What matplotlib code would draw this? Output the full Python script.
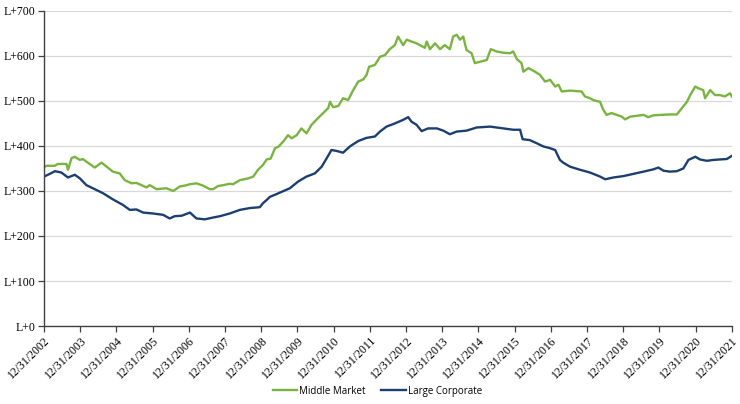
#!/usr/bin/env python3
# -*- coding: utf-8 -*-

"""Middle market vs large corporate spreads, L+ bps."""

import matplotlib
matplotlib.use("Agg")
import matplotlib.pyplot as plt
import numpy as np

# years elapsed since 12/31/2002
mm_t = [0.00, 0.07, 0.30, 0.38, 0.62, 0.66, 0.76, 0.85, 0.99, 1.07, 1.40, 1.59,
        1.90, 2.09, 2.23, 2.42, 2.55, 2.83, 2.92, 3.11, 3.38, 3.57, 3.75, 3.89,
        4.03, 4.21, 4.39, 4.58, 4.67, 4.81, 4.95, 5.13, 5.22, 5.41, 5.64, 5.78,
        5.91, 6.05, 6.15, 6.26, 6.38, 6.47, 6.61, 6.74, 6.84, 6.98, 7.11, 7.25,
        7.39, 7.57, 7.71, 7.85, 7.90, 7.99, 8.13, 8.26, 8.40, 8.54, 8.68, 8.82,
        8.91, 8.98, 9.14, 9.28, 9.42, 9.55, 9.69, 9.78, 9.92, 10.02, 10.15,
        10.29, 10.38, 10.52, 10.57, 10.66, 10.80, 10.94, 11.07, 11.21, 11.30,
        11.40, 11.49, 11.58, 11.67, 11.81, 11.90, 12.04, 12.23, 12.34, 12.50,
        12.69, 12.87, 12.96, 13.06, 13.19, 13.24, 13.38, 13.56, 13.70, 13.84,
        13.98, 14.12, 14.21, 14.30, 14.53, 14.85, 14.94, 15.08, 15.17, 15.36,
        15.45, 15.54, 15.68, 15.82, 15.96, 16.05, 16.19, 16.37, 16.56, 16.69,
        16.83, 17.02, 17.29, 17.48, 17.62, 17.76, 17.85, 17.99, 18.08, 18.21,
        18.26, 18.40, 18.54, 18.67, 18.81, 18.95, 19.00]
mm_val = [353, 356, 356, 360, 360, 347, 373, 376, 369, 371, 352, 363,
          343, 339, 324, 317, 318, 308, 313, 304, 306, 300, 310, 312,
          315, 317, 312, 304, 304, 311, 313, 316, 315, 324, 328, 332,
          347, 358, 370, 372, 395, 398, 410, 424, 417, 424, 439, 428,
          447, 462, 473, 484, 498, 486, 489, 506, 502, 524, 543, 548,
          558, 576, 580, 598, 602, 615, 624, 643, 624, 636, 632,
          628, 624, 618, 632, 615, 628, 615, 624, 615, 643,
          647, 636, 643, 613, 606, 584, 587, 591, 615, 610,
          607, 606, 610, 593, 584, 565, 573, 565, 558, 543,
          547, 532, 536, 521, 523, 521, 510, 506, 502, 498,
          480, 469, 473, 469, 465, 459, 465, 467, 469, 464,
          468, 469, 470, 470, 484, 498, 513, 532, 528, 524,
          506, 524, 513, 513, 510, 517, 510]

lc_t = [0.00, 0.16, 0.30, 0.48, 0.66, 0.85, 0.99, 1.17, 1.35, 1.63, 1.91,
        2.18, 2.37, 2.55, 2.74, 3.01, 3.29, 3.47, 3.61, 3.80, 4.03, 4.21,
        4.44, 4.67, 4.86, 5.13, 5.41, 5.68, 5.96, 6.05, 6.15, 6.24, 6.42,
        6.56, 6.79, 7.02, 7.25, 7.48, 7.67, 7.81, 7.94, 8.08, 8.26, 8.45,
        8.68, 8.91, 9.14, 9.28, 9.46, 9.69, 9.92, 10.06, 10.15, 10.29,
        10.43, 10.61, 10.85, 11.03, 11.21, 11.40, 11.67, 11.95, 12.32,
        12.69, 12.96, 13.15, 13.22, 13.42, 13.61, 13.79, 13.98, 14.12,
        14.25, 14.34, 14.53, 14.81, 15.08, 15.36, 15.50, 15.73, 16.00,
        16.28, 16.56, 16.83, 16.97, 17.11, 17.29, 17.48, 17.66, 17.80,
        17.99, 18.12, 18.31, 18.49, 18.67, 18.86, 19.00]
lc_val = [332, 338, 344, 341, 330, 336, 328, 313, 306, 295, 281,
          269, 258, 259, 252, 250, 247, 239, 244, 245, 252, 239,
          237, 241, 244, 250, 258, 262, 264, 273, 280, 287, 293,
          298, 306, 321, 332, 339, 354, 373, 391, 389, 385, 399,
          411, 418, 421, 432, 443, 450, 458, 464, 454, 447,
          433, 439, 439, 434, 426, 432, 434, 441, 443,
          439, 436, 436, 415, 413, 406, 399, 395, 391,
          369, 363, 354, 347, 341, 332, 326, 330, 333,
          338, 343, 348, 352, 345, 343, 344, 350, 369,
          376, 370, 367, 369, 370, 371, 378]

years = list(range(2002, 2022))
y_ticks = list(range(0, 701, 100))

GREEN = "#79b440"
BLUE = "#1c3f70"

plt.rcParams["font.serif"] = ["Liberation Serif", "DejaVu Serif"]


def main():
    fig = plt.figure(figsize=(7.4, 4.04), dpi=100)
    ax = fig.add_axes([0.0595, 0.193, 0.9295, 0.780])

    ax.plot(mm_t, mm_val, color=GREEN, lw=1.7, label="Middle Market")
    ax.plot(lc_t, lc_val, color=BLUE, lw=1.7, label="Large Corporate")

    ax.set_xlim(0, len(years) - 1)
    ax.set_ylim(0, 700)
    ax.set_yticks(y_ticks)
    ax.set_yticklabels(["L+%d" % v for v in y_ticks],
                       fontfamily="serif", fontsize=8.5)
    ax.set_xticks(np.arange(len(years)))
    ax.set_xticklabels(["12/31/%d" % y for y in years],
                       fontfamily="serif", fontsize=8.5,
                       rotation=45, ha="right", rotation_mode="anchor")
    ax.yaxis.grid(True, color="#d9d9d9", lw=0.9)
    ax.set_axisbelow(True)
    for side in ("top", "right"):
        ax.spines[side].set_visible(False)
    for side in ("left", "bottom"):
        ax.spines[side].set_color("#404040")
        ax.spines[side].set_linewidth(1.0)
    ax.tick_params(axis="both", direction="out", length=4, width=0.9,
                   color="#404040", pad=2)

    fig.legend(loc="center", bbox_to_anchor=(0.51, 0.032), ncol=2,
               frameon=False, handlelength=2.5, handletextpad=0.2,
               columnspacing=1.6, prop={"family": "Open Sans", "size": 7})

    fig.savefig("out.png", dpi=100)


if __name__ == "__main__":
    main()
